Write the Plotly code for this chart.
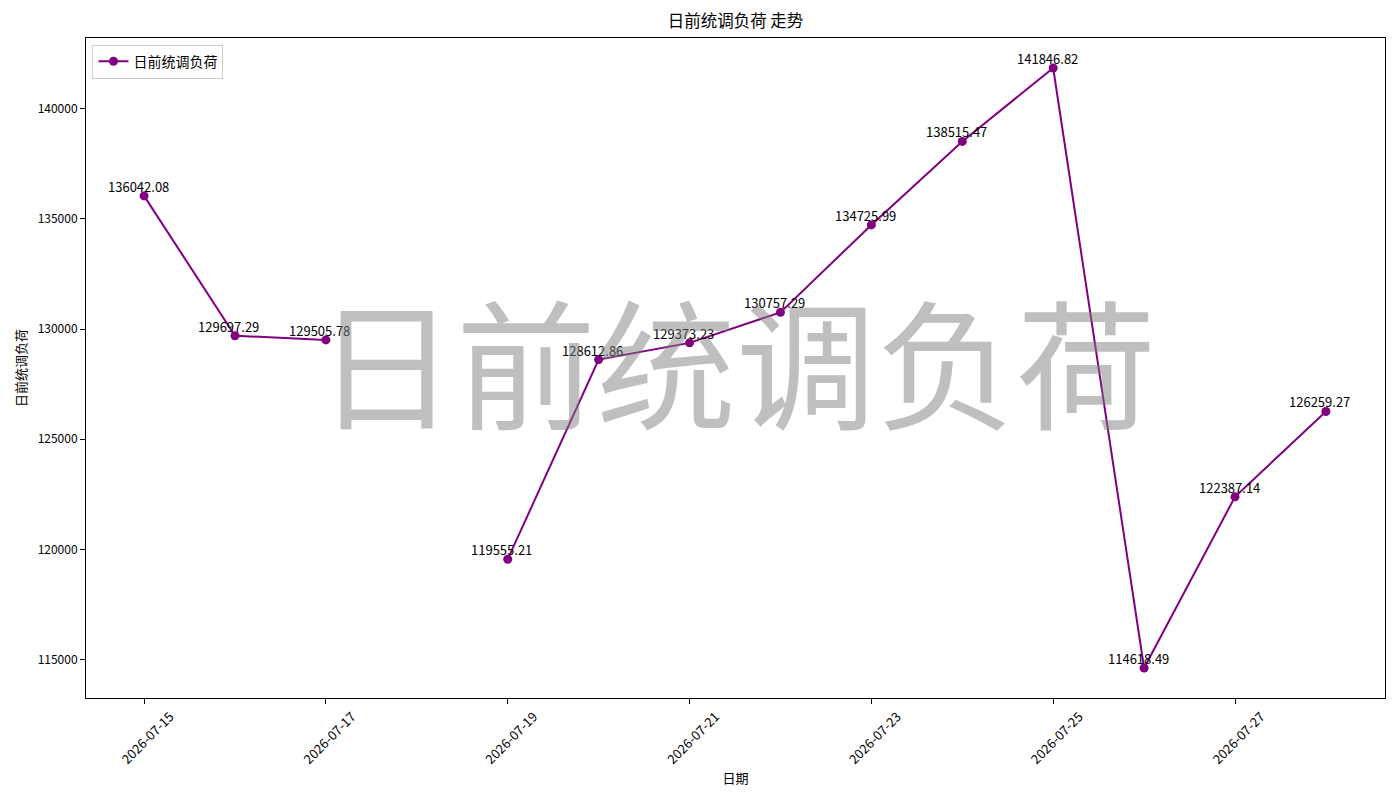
"""日前统调负荷 trend chart, matplotlib-like look in Plotly."""

import plotly.graph_objects as go

# data
dates = [
    "2026-07-15", "2026-07-16", "2026-07-17", "2026-07-18", "2026-07-19",
    "2026-07-20", "2026-07-21", "2026-07-22", "2026-07-23", "2026-07-24",
    "2026-07-25", "2026-07-26", "2026-07-27", "2026-07-28",
]
load = [
    136042.08, 129697.29, 129505.78, None, 119555.21,
    128612.86, 129373.23, 130757.29, 134725.99, 138515.47,
    141846.82, 114618.49, 122387.14, 126259.27,
]
tick_dates = ["2026-07-15", "2026-07-17", "2026-07-19", "2026-07-21",
              "2026-07-23", "2026-07-25", "2026-07-27"]
y_ticks = [115000, 120000, 125000, 130000, 135000, 140000]

series_name = "日前统调负荷"
title = "日前统调负荷 走势"
FONT = "Noto Sans CJK SC, Noto Sans, sans-serif"
PURPLE = "#800080"

fig = go.Figure()
fig.add_trace(
    go.Scatter(
        x=dates,
        y=load,
        mode="lines+markers",
        name=series_name,
        line=dict(color=PURPLE, width=2),
        marker=dict(color=PURPLE, size=9),
        connectgaps=False,
    )
)

# value labels just above each point (they sit on the marker like in mpl)
for d, v in zip(dates, load):
    if v is None:
        continue
    fig.add_annotation(
        x=d, y=v,
        text=f"{v:.2f}",
        showarrow=False,
        yanchor="bottom",
        yshift=-1,
        xshift=-6,
        borderpad=0,
        font=dict(family=FONT, size=13, color="black"),
    )

# big watermark in the middle of the plot
fig.add_annotation(
    text=series_name,
    xref="paper", yref="paper",
    x=0.5, y=0.5,
    yshift=10,
    showarrow=False,
    font=dict(family=FONT, size=140, color="rgba(128,128,128,0.5)"),
)

axis_common = dict(
    showline=True,
    linecolor="black",
    linewidth=1,
    mirror=True,
    showgrid=False,
    zeroline=False,
    ticks="outside",
    ticklen=5,
    tickcolor="black",
)

fig.update_xaxes(
    **axis_common,
    type="date",
    range=["2026-07-14 08:40", "2026-07-28 15:36"],
    tickvals=tick_dates,
    ticktext=tick_dates,
    tickangle=-45,
    ticklabelshift=26,
    tickfont=dict(family=FONT, size=13, color="black"),
    title=dict(text="日期", font=dict(family=FONT, size=13, color="black"), standoff=6),
)
fig.update_yaxes(
    **axis_common,
    range=[113257, 143208],
    tickvals=y_ticks,
    tickformat="d",
    tickfont=dict(family=FONT, size=12, color="black"),
    title=dict(text=series_name, font=dict(family=FONT, size=13, color="black"), standoff=8),
)

# page body has an 8px margin, so the figure is a bit smaller than the window
fig.update_layout(
    width=1392,
    height=792,
    title=dict(
        text=title,
        xref="paper", x=0.5, xanchor="center",
        yref="container", y=0.983, yanchor="middle",
        font=dict(family=FONT, size=16.5, color="black"),
    ),
    font=dict(family=FONT, color="black"),
    plot_bgcolor="white",
    paper_bgcolor="white",
    margin=dict(l=78, r=15, t=30, b=102),
    showlegend=True,
    legend=dict(
        x=0.005, y=0.99,
        xanchor="left", yanchor="top",
        bordercolor="#cccccc",
        borderwidth=1,
        bgcolor="rgba(255,255,255,0.8)",
        font=dict(family=FONT, size=14, color="black"),
    ),
)

fig.write_html("out.html")
